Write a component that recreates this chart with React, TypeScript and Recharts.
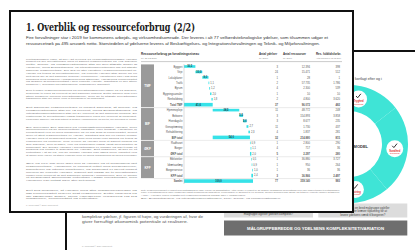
import React from 'react';
import { BarChart, Bar, XAxis, YAxis, LabelList, PieChart, Pie } from 'recharts';

const SANS = "'Liberation Sans', Arial, sans-serif";
const SERIF = "'DejaVu Serif', 'Liberation Serif', serif";
const BAR_COLOR = '#36e2e8';
const RING_COLOR = '#3fe4d6';

// ---------- waterfall data ----------
const groupNames = ['TMF', 'BIF', 'ØKF', 'KFF'];
const groupRowCounts = [8, 6, 3, 4];
const rowLabels = [
  'Byggeri', 'Veje', 'Lokalplaner', 'Trafik', 'Byrum', 'Bygningsarealer', 'Renholdning', 'Total TMF',
  'Hjemmepleje', 'Beboere', 'Hverdagsliv', 'Genoptræning', 'Rehabilitering', 'BIF total',
  'Rådhuset', 'Borger', 'ØKF total',
  'Biblioteker', 'Idrætsanlæg', 'Borgerservice', 'KFF total',
  'Samlet',
];
const rowKinds = ['d', 'd', 'd', 'd', 'd', 'd', 'd', 't', 'd', 'd', 'd', 'd', 'd', 't', 'd', 'd', 't', 'd', 'd', 'd', 't', 'g'];
const rowShares = [16.5, 10.0, 9.0, 1.1, 1.2, 2.0, 1.8, 41.6, 38.5, 5.5, 5.0, 2.7, 2.3, 54.0, 0.9, 1.1, 2.0, 0.5, 0.9, 1.0, 2.4, 100];
const colYdelser = ['3', '24', '1', '2', '4', '1', '2', '37', '11', '3', '3', '11', '4', '32', '1', '4', '5', '1', '1', '1', '3', '77'];
const colRessourcer = ['12.394', '15.471', '28', '57.735', '2.300', '10', '4.800', '96.072', '48.772', '154.893', '8.677', '1.730', '1.837', '214.880', '2.800', '717', '2.297', '36.880', '950', '36', '36.966', '359.140'];
const colAarsvaerk = ['398', '512', '1', '1.786', '539', '10', '3.620', '482', '248', '3.858', '235', '437', '281', '815', '290', '36', '280', '3.727', '264', '36', '2.497', '983'];

// ---------- ring data ----------
const ringSegments = [
  { name: 'Tryghed', value: 80 },
  { name: 'Sundhed', value: 88 },
  { name: 'Mestring', value: 64 },
  { name: 'Øvrige', value: 128 },
];

// ---------- texts ----------
const titleText = '1. Overblik og ressourceforbrug (2/2)';
const subtitleLines = [
  'Fire forvaltninger står i 2019 for kommunens arbejds- og virksomhedsområde. Der leveres i alt 77 velfærdsteknologiske ydelser, som tilsammen udgør et',
  'ressourcetræk på 495 årsværk netto. Størstedelen af ydelserne leveres af Beskæftigelses- og Integrationsforvaltningen og Teknik- og Miljøforvaltningen.',
];
const paragraphs = [
  'Kortlægningen viser, at der i alt leveres 77 velfærdsteknologiske ydelser fordelt på fire forvaltninger med et samlet ressourcetræk på 495 årsværk netto. Teknik- og Miljøforvaltningen står for den største andel af ydelserne, mens Beskæftigelses- og Integrationsforvaltningen har det største samlede ressourcetræk. Der ses en stor variation i ressourceforbruget pr. ydelse på tværs af forvaltningerne, og enkelte ydelser står alene for en betydelig del af det samlede forbrug i kommunen. Variationen kan i høj grad forklares med forskelle i målgruppernes størrelse, ydelsernes kompleksitet og graden af borgerkontakt i den enkelte ydelse. Samtidig er der store forskelle i, hvordan forvaltningerne organiserer arbejdet.',
  'Den typiske ressourcefordeling på forvaltningsniveau ligger på 73 årsværk, svarende til cirka 15 procent af det samlede forbrug. Dette dækker dog over store forskelle mellem forvaltningerne, hvor de to største forvaltninger tilsammen står for mere end ni tiendedele af forbruget.',
  'Det samlede ressourcetræk er fordelt således, at Teknik- og Miljøforvaltningen står for 42 procent, mens Beskæftigelses- og Integrationsforvaltningen står for 54 procent af det samlede forbrug. De resterende to forvaltninger udgør tilsammen cirka fire procent af forbruget. Fordelingen afspejler i høj grad antallet af borgere i målgrupperne og den tid, der anvendes pr. borger.',
  'BIF anvender 266 årsværk på velfærdsteknologiske ydelser, hvor hjemmeplejen og de beboerrettede indsatser vejer tungest. Ydelserne er kendetegnet ved en bred målgruppe og en høj grad af kompleksitet, hvilket giver et stort ressourcetræk pr. ydelse. Samtidig ses der en række mindre ydelser med et begrænset forbrug, som med fordel kan samles på tværs af enhederne og centrene. TMF leverer 37 ydelser med et samlet forbrug på 206 årsværk, hvor byggeri, veje og lokalplaner udgør langt hovedparten af forbruget. De øvrige ydelser i forvaltningen er mindre og har typisk et forbrug på under ti årsværk pr. ydelse. Det indikerer, at der er et potentiale i at se på, om de mindre ydelser kan løses mere effektivt ved at samle dem i færre og større enheder med en fælles organisering og fælles processer.',
  'ØKF og KFF har hver især kun få ydelser og et forholdsvis lavt ressourcetræk. Ydelserne er primært rettet mod borgerservice, biblioteker og interne funktioner, og forbruget er jævnt fordelt mellem de enkelte ydelser. Samlet set udgør de to forvaltninger under fem procent af det samlede forbrug i kommunen. Der er derfor et begrænset økonomisk potentiale i disse forvaltninger, men ydelserne kan fortsat have stor betydning.',
  'Det ses desuden, at ydelser med stor målgruppebredde og høj kompleksitet kræver flest ressourcer. Dette uddybes på de følgende sider, hvor ydelserne vurderes ud fra målgruppe, kompleksitet og potentiale.',
];
const paragraphLastFractions = [0.4, 0.6, 0.85, 0.9, 0.35, 0.5];
const footnotes = [
  'Note: Ressourceforbruget er opgjort som fuldtidsårsværk ekskl. ledelse og administration. Antal ydelser er opgjort pr. 31.12.2019 på baggrund af forvaltningernes egne indberetninger til kortlægningen.',
  'Kilde: Forvaltningernes egne opgørelser samt kommunens lønsystem. Fordelingen er afrundet til én decimal, hvorfor summen kan afvige fra totalen i enkelte rækker af tabellen.',
  'Anm.: Ydelser uden registreret ressourceforbrug indgår ikke i opgørelsen.',
  'BIF: Beskæftigelses- og Integrationsforvaltningen, TMF: Teknik- og Miljøforvaltningen.',
];

const fmt = (v: number) => v.toFixed(1).replace('.', ',');

let cursor = 0;
let groupStart = 0;
const rows = rowLabels.map((name, i) => {
  const kind = rowKinds[i];
  let range: number[];
  if (kind === 'd') {
    range = [cursor, cursor + rowShares[i]];
    cursor += rowShares[i];
  } else if (kind === 't') {
    range = [groupStart, cursor];
    groupStart = cursor;
  } else {
    range = [0, cursor];
  }
  return { name, kind, range, label: fmt(rowShares[i]), c1: colYdelser[i], c2: colRessourcer[i], c3: colAarsvaerk[i] };
});

const groupStarts: number[] = [];
{
  let s = 0;
  groupRowCounts.forEach((n) => { groupStarts.push(s); s += n; });
  groupStarts.push(s);
}

const CHART_W = 200;
const CHART_H = 120;
const LEFT_W = 43;
const RIGHT_W = 88;
const BLOCK_W = 13;

function splitLines(text: string, n: number, lastFrac: number): string[] {
  const words = text.split(' ');
  const target = text.length / (n - 1 + lastFrac);
  const lines: string[] = [];
  let cur = '';
  for (const w of words) {
    const cand = cur ? cur + ' ' + w : w;
    if (cand.length > target && cur && lines.length < n - 1) {
      lines.push(cur);
      cur = w;
    } else cur = cand;
  }
  lines.push(cur);
  return lines;
}

const Para = ({ text, x, y, n, lastFrac, width, step, size, fill }: any) => {
  const lines = splitLines(text, n, lastFrac);
  const target = text.length / (n - 1 + lastFrac);
  return (
    <g>
      {lines.map((l, i) => {
        const last = i === lines.length - 1;
        const w = last ? Math.min(1, l.length / target) * width : width;
        return (
          <text key={i} x={x} y={y + i * step} fontSize={size} fill={fill} fontFamily={SANS}
            textLength={w} lengthAdjust="spacingAndGlyphs">{l}</text>
        );
      })}
    </g>
  );
};

const LeftTick = (props: any) => {
  const { x, y, payload } = props;
  const i = payload.index;
  const half = payload.offset || CHART_H / rows.length / 2;
  const row = rows[i];
  const g = groupStarts.indexOf(i);
  const axisLeft = x - LEFT_W;
  const bold = row.kind !== 'd';
  return (
    <g>
      {g >= 0 && g < groupNames.length && (
        <g>
          <rect x={axisLeft} y={y - half + 0.4} width={BLOCK_W} height={groupRowCounts[g] * half * 2 - 0.8} fill="#9a9a9a" />
          <text x={axisLeft + BLOCK_W / 2} y={y - half + groupRowCounts[g] * half + 1} fontSize={3.2} fill="#fff" textAnchor="middle" fontFamily={SANS} fontWeight="bold">{groupNames[g]}</text>
        </g>
      )}
      {g > 0 && (
        <line x1={axisLeft + BLOCK_W} x2={axisLeft + CHART_W} y1={y - half} y2={y - half} stroke="#d6d6d6" strokeWidth={0.5} />
      )}
      <text x={x - 1.5} y={y + 0.9} fontSize={2.7} fill="#555" textAnchor="end" fontFamily={SANS} fontWeight={bold ? 'bold' : 'normal'}>{row.name}</text>
    </g>
  );
};

const RightTick = (props: any) => {
  const { x, y, payload } = props;
  const row = rows[payload.index];
  const bold = row.kind !== 'd' ? 'bold' : 'normal';
  const common = { fontSize: 2.7, fill: '#555', textAnchor: 'end' as const, fontFamily: SANS, fontWeight: bold };
  return (
    <g>
      <text x={x + 25} y={y + 0.9} {...common}>{row.c1}</text>
      <text x={x + 57} y={y + 0.9} {...common}>{row.c2}</text>
      <text x={x + 87} y={y + 0.9} {...common}>{row.c3}</text>
    </g>
  );
};

const BarShape = (props: any) => {
  const { x, y, width, height, payload } = props;
  const h = payload.kind === 'd' ? 2.6 : 3.6;
  return <rect x={x} y={y + height / 2 - h / 2} width={Math.max(width, 0.6)} height={h} fill={BAR_COLOR} />;
};

const BarLabel = (props: any) => {
  const { x, y, width, height, value } = props;
  if (x == null) return null;
  if (width >= 3.4) {
    return <text x={x + width / 2} y={y + height / 2 + 0.9} fontSize={2.6} fill="#0f3d48" textAnchor="middle" fontFamily={SANS} fontWeight="bold">{value}</text>;
  }
  return <text x={x + width + 1} y={y + height / 2 + 0.9} fontSize={2.6} fill="#555" fontFamily={SANS}>{value}</text>;
};

const ringLabel = (p: any) => {
  const { cx, cy, midAngle, innerRadius, outerRadius, index, name } = p;
  if (index === 3) return null;
  const r = (innerRadius + outerRadius) / 2;
  const a = (-midAngle * Math.PI) / 180;
  const x = cx + r * Math.cos(a);
  const y = cy + r * Math.sin(a);
  return (
    <g>
      <circle cx={x} cy={y} r={8.5} fill="#fff" />
      <path d={`M${x - 2.5} ${y - 3} l1.6 1.8 l3.2 -4`} stroke="#333" strokeWidth={1} fill="none" />
      <text x={x} y={y + 3} fontSize={2.6} fill="#e0302c" textAnchor="middle" fontFamily={SANS} fontWeight="bold">{name}</text>
      <text x={x} y={y + 5.6} fontSize={2.4} fill="#e0302c" textAnchor="middle" fontFamily={SANS}>teknologi</text>
    </g>
  );
};

export default function App() {
  return (
    <div style={{ position: 'absolute', left: 0, top: 0, width: 415, height: 250, overflow: 'hidden', background: '#fff' }}>
      {/* back page */}
      <div style={{ position: 'absolute', left: 65, top: 50, width: 420, height: 260, border: '2px solid #111', background: '#fff', boxSizing: 'border-box' }} />
      <div style={{ position: 'absolute', left: 279, top: 74 }}>
        <PieChart width={140} height={140} margin={{ top: 0, right: 0, bottom: 0, left: 0 }}>
          <Pie data={ringSegments} dataKey="value" nameKey="name" cx={70} cy={70} innerRadius={33} outerRadius={59}
            startAngle={118} endAngle={-242} stroke="none" fill={RING_COLOR} isAnimationActive={false}
            label={ringLabel} labelLine={false} />
        </PieChart>
      </div>
      <svg width={415} height={250} style={{ position: 'absolute', left: 0, top: 0 }}>
        <text x={381.7} y={79.5} fontSize={3.6} fill="#444" textAnchor="end" fontFamily={SANS}>Figur 3: Velfærdsteknologier kortlagt efter og i</text>
        <text x={368} y={147.5} fontSize={4} fill="#333" textAnchor="end" fontFamily={SANS} fontWeight="bold">VELFÆRDSMODEL</text>
        <rect x={224} y={203.5} width={89} height={14} fill="#dcdcdc" />
        <rect x={318.3} y={203.5} width={89} height={14} fill="#dcdcdc" />
        <text x={268.5} y={215} fontSize={2.9} fill="#444" textAnchor="middle" fontFamily={SANS}>målgruppe og/eller ydelsen kompleks?</text>
        <text x={362.8} y={209} fontSize={2.9} fill="#444" textAnchor="middle" fontFamily={SANS}>Er der tale om en bred målgruppe og/eller</text>
        <text x={362.8} y={212.3} fontSize={2.9} fill="#444" textAnchor="middle" fontFamily={SANS}>en ydelse, der kræver tilpasning for at</text>
        <text x={362.8} y={215.6} fontSize={2.9} fill="#444" textAnchor="middle" fontFamily={SANS}>levere ydelsens værdi til borgeren?</text>
        <rect x={224} y={220.5} width={183.3} height={15} fill="#6e6e6e" />
        <text x={315.6} y={229.6} fontSize={3.8} fill="#fff" textAnchor="middle" fontFamily={SANS} fontWeight="bold" textLength={137} lengthAdjust="spacingAndGlyphs">MÅLGRUPPEBREDDE OG YDELSENS KOMPLEKSITET/VARIATION</text>
        <text x={82} y={218.2} fontSize={3.4} fill="#555" fontFamily={SANS} textLength={121} lengthAdjust="spacingAndGlyphs">komplekse ydelser, jf. figuren til højre, og vurderingen af, hvor de</text>
        <text x={82} y={223} fontSize={3.4} fill="#555" fontFamily={SANS} textLength={106} lengthAdjust="spacingAndGlyphs">giver fornuftigt økonomisk potentiale at realisere.</text>
        <text x={82} y={246.5} fontSize={2.2} fill="#999" fontFamily={SANS} textLength={30} lengthAdjust="spacingAndGlyphs">8 | Copyright © 2019 Implement</text>
      </svg>

      {/* front page */}
      <div style={{ position: 'absolute', left: 9, top: 10, width: 345, height: 203, border: '2.2px solid #111', background: '#fff', boxSizing: 'border-box' }} />
      <svg width={415} height={250} style={{ position: 'absolute', left: 0, top: 0 }}>
        <text x={26} y={30.8} fontSize={11} fill="#1a1a1a" fontFamily={SERIF} fontWeight="bold" textLength={169} lengthAdjust="spacingAndGlyphs">{titleText}</text>
        <text x={26} y={39.3} fontSize={4.2} fill="#333" fontFamily={SANS} textLength={302} lengthAdjust="spacingAndGlyphs">{subtitleLines[0]}</text>
        <text x={26} y={45} fontSize={4.2} fill="#333" fontFamily={SANS} textLength={294} lengthAdjust="spacingAndGlyphs">{subtitleLines[1]}</text>
        {paragraphs.map((p, i) => (
          <Para key={i} text={p} x={26} y={[59.6, 90.8, 108.2, 127.6, 164.2, 190.9][i]} n={[10, 4, 5, 11, 7, 4][i]}
            lastFrac={paragraphLastFractions[i]} width={111} step={2.85} size={2.5} fill="#777" />
        ))}
        <text x={26} y={205.8} fontSize={2.2} fill="#999" fontFamily={SANS} textLength={32} lengthAdjust="spacingAndGlyphs">7 | Copyright © 2019 Implement</text>

        <text x={141} y={55} fontSize={3.1} fill="#333" fontFamily={SANS} fontWeight="bold" textLength={58} lengthAdjust="spacingAndGlyphs">Ressourceforbrug på forvaltningsniveau</text>
        <text x={141} y={58.6} fontSize={2.4} fill="#888" fontFamily={SANS} textLength={16} lengthAdjust="spacingAndGlyphs">Pr. 31.12.2019</text>
        <text x={259} y={55} fontSize={3} fill="#333" fontFamily={SANS} fontWeight="bold" textLength={18} lengthAdjust="spacingAndGlyphs">Antal ydelser</text>
        <text x={259} y={58.6} fontSize={2.4} fill="#888" fontFamily={SANS} textLength={9} lengthAdjust="spacingAndGlyphs">Pr. 2019</text>
        <text x={283} y={55} fontSize={3} fill="#333" fontFamily={SANS} fontWeight="bold" textLength={23} lengthAdjust="spacingAndGlyphs">Antal ressourcer</text>
        <text x={283} y={58.6} fontSize={2.4} fill="#888" fontFamily={SANS} textLength={9} lengthAdjust="spacingAndGlyphs">Pr. 2019</text>
        <text x={316} y={55} fontSize={3} fill="#333" fontFamily={SANS} fontWeight="bold" textLength={25} lengthAdjust="spacingAndGlyphs">Res. fuldtidsforbr.</text>
        <text x={316} y={58.6} fontSize={2.4} fill="#888" fontFamily={SANS} textLength={25} lengthAdjust="spacingAndGlyphs">Antal årsværk pr. 31.12.2019</text>
        <line x1={141} x2={342} y1={61.6} y2={61.6} stroke="#999" strokeWidth={0.5} />

        <text x={141} y={190.5} fontSize={2.2} fill="#777" fontFamily={SANS} textLength={199} lengthAdjust="spacingAndGlyphs">{footnotes[0]}</text>
        <text x={141} y={193.2} fontSize={2.2} fill="#777" fontFamily={SANS} textLength={199} lengthAdjust="spacingAndGlyphs">{footnotes[1]}</text>
        <text x={141} y={195.9} fontSize={2.2} fill="#777" fontFamily={SANS} textLength={105} lengthAdjust="spacingAndGlyphs">{footnotes[2]}</text>
        <text x={141} y={199.2} fontSize={2.2} fill="#777" fontFamily={SANS} textLength={140} lengthAdjust="spacingAndGlyphs">{footnotes[3]}</text>
      </svg>
      <div style={{ position: 'absolute', left: 141, top: 64 }}>
        <BarChart width={CHART_W} height={CHART_H} data={rows} layout="vertical"
          margin={{ top: 0, right: 0, bottom: 0, left: 0 }} barCategoryGap={0}>
          <XAxis type="number" hide domain={[0, 100]} />
          <YAxis yAxisId="l" type="category" dataKey="name" width={LEFT_W} interval={0}
            axisLine={{ stroke: '#b8b8b8', strokeWidth: 0.5 }} tickLine={false} tickSize={0} tickMargin={0} tick={<LeftTick />} />
          <YAxis yAxisId="r" orientation="right" type="category" dataKey="name" width={RIGHT_W} interval={0}
            axisLine={false} tickLine={false} tickSize={0} tickMargin={0} tick={<RightTick />} />
          <Bar yAxisId="l" dataKey="range" fill={BAR_COLOR} isAnimationActive={false} shape={<BarShape />}>
            <LabelList dataKey="label" content={<BarLabel />} />
          </Bar>
        </BarChart>
      </div>
    </div>
  );
}
